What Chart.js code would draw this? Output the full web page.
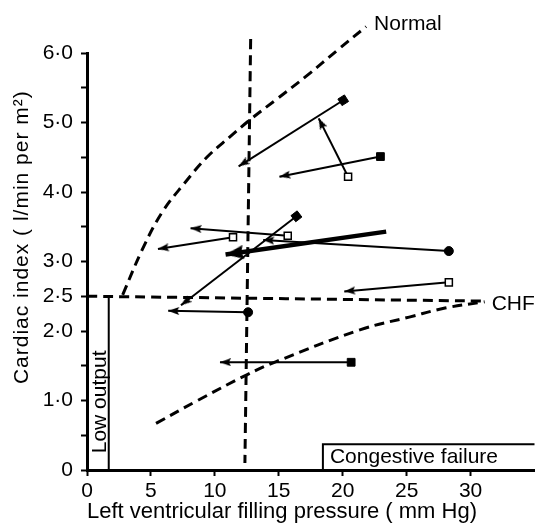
<!DOCTYPE html>
<html>
<head>
<meta charset="utf-8">
<script src="https://cdn.jsdelivr.net/npm/chart.js@4.4.0/dist/chart.umd.min.js"></script>
<style>
  html, body { margin: 0; padding: 0; background: #fff; }
  #wrap { width: 543px; height: 525px; }
</style>
</head>
<body>
<div id="wrap"><canvas id="chart" width="543" height="525"></canvas></div>
<script>
// LV filling pressure (mm Hg) against cardiac index (l/min per m2)
const xTicks = [0, 5, 10, 15, 20, 25, 30];
const yTicks = [0, 0.5, 1, 1.5, 2, 2.5, 3, 3.5, 4, 4.5, 5, 5.5, 6];
const yLabelValues = [0, 1, 2, 2.5, 3, 4, 5, 6];
const yLabelTexts  = ['0', '1·0', '2·0', '2·5', '3·0', '4·0', '5·0', '6·0'];

// dashed reference curves
const normalCurve = [[2.79, 2.52], [4.32, 3.17], [5.85, 3.7], [7.64, 4.13], [9.43, 4.51], [11.22, 4.8], [12.75, 5.04], [14.8, 5.33], [17.1, 5.66], [19.65, 6.05], [21.83, 6.38]];
const chfCurve    = [[5.4, 0.67], [8.65, 1.0], [12.5, 1.37], [14.8, 1.56], [21.4, 2.02], [25.2, 2.2], [28, 2.33], [31.1, 2.42]];
const chfLine     = [[0, 2.5], [31.1, 2.43]];
const pressureLine = [[12.8, 6.2], [12.35, 0.1]];

// outlined zones
const lowOutputBox = [[1.7, 2.5], [1.7, 0]];
const failureBox   = [[18.45, 0], [18.45, 0.37], [35, 0.37]];

// patient responses: before (marker) -> after (arrow head)
const arrowFrom  = [[20.04, 5.32], [20.42, 4.22], [22.95, 4.51], [16.38, 3.65], [11.42, 3.35], [15.7, 3.37], [28.3, 3.15], [28.3, 2.7], [12.6, 2.27], [20.66, 1.55]];
const arrowTo    = [[11.86, 4.37], [18.12, 5.06], [15.05, 4.22], [7.35, 2.37], [5.55, 3.18], [8.1, 3.48], [13.78, 3.31], [20.12, 2.57], [6.35, 2.29], [10.4, 1.55]];
const arrowKinds = ['filledTilt', 'open', 'filled', 'filledTilt', 'open', 'open', 'dot', 'open', 'dot', 'filled'];

// mean response (heavy arrow)
const meanFrom = [23.4, 3.43];
const meanTo   = [10.84, 3.1];

const notes = [
  { text: 'Normal', x: 22.45, y: 6.42, rot: 0, align: 'left' },
  { text: 'CHF', x: 31.65, y: 2.38, rot: 0, align: 'left' },
  { text: 'Congestive failure', x: 19.0, y: 0.18, rot: 0, align: 'left' },
  { text: 'Low output', x: 1.0, y: 0.98, rot: -90, align: 'center' },
];
const yTitle = 'Cardiac index ( l/min per m²)';
const xTitle = 'Left ventricular filling pressure ( mm Hg)';

const FONT = "'Liberation Sans', Arial, sans-serif";
const pts = arr => arr.map(p => ({ x: p[0], y: p[1] }));

function headImage(len, half) {
  const c = document.createElement('canvas');
  c.width = len * 2; c.height = half * 2;
  const g = c.getContext('2d');
  g.fillStyle = '#000';
  g.beginPath();
  g.moveTo(len, half);
  g.lineTo(0, 0);
  g.lineTo(2, half);
  g.lineTo(0, half * 2);
  g.closePath();
  g.fill();
  return c;
}
const thinHead = headImage(11, 4);
const thickHead = headImage(18, 7);

function angleOf(c) {
  const d = c.dataset.data;
  const sx = c.chart.scales.x, sy = c.chart.scales.y;
  const dx = sx.getPixelForValue(d[1].x) - sx.getPixelForValue(d[0].x);
  const dy = sy.getPixelForValue(d[1].y) - sy.getPixelForValue(d[0].y);
  return Math.atan2(dy, dx) * 180 / Math.PI;
}

function dashed(arr) {
  return {
    data: pts(arr), borderColor: '#000', borderWidth: 3, borderDash: [10, 6],
    pointRadius: 0, tension: 0.4, clip: false, fill: false,
  };
}
function solid(arr) {
  return { data: pts(arr), borderColor: '#000', borderWidth: 2, pointRadius: 0, fill: false, clip: false };
}

function arrow(from, to, kind) {
  const open = kind === 'open';
  const style = kind === 'dot' ? 'circle' : 'rect';
  return {
    data: pts([from, to]),
    borderColor: '#000', borderWidth: 2, fill: false,
    pointStyle: [style, thinHead],
    pointRadius: [kind === 'dot' ? 4.5 : (open ? 5 : 5.5), 2],
    pointBackgroundColor: [open ? '#fff' : '#000', '#000'],
    pointBorderColor: '#000',
    pointBorderWidth: [open ? 1.5 : 1, 0],
    rotation: c => (c.dataIndex === 1 || kind === 'filledTilt') ? angleOf(c) : 0,
  };
}

const datasets = [
  dashed(normalCurve),
  dashed(chfCurve),
  dashed(chfLine),
  dashed(pressureLine),
  solid(lowOutputBox),
  solid(failureBox),
];
arrowFrom.forEach((p, i) => datasets.push(arrow(p, arrowTo[i], arrowKinds[i])));
datasets.push({
  data: pts([meanFrom, meanTo]),
  borderColor: '#000', borderWidth: 4.5, fill: false,
  pointStyle: [false, thickHead], pointRadius: [0, 2],
  rotation: c => angleOf(c),
});

const notesPlugin = {
  id: 'notes',
  afterDatasetsDraw(chart) {
    const { ctx, scales: { x, y } } = chart;
    ctx.save();
    ctx.fillStyle = '#000';
    ctx.font = `21px ${FONT}`;
    ctx.textBaseline = 'middle';
    notes.forEach(n => {
      ctx.save();
      ctx.translate(x.getPixelForValue(n.x), y.getPixelForValue(n.y));
      ctx.rotate(n.rot * Math.PI / 180);
      ctx.textAlign = n.align;
      ctx.fillText(n.text, 0, 0);
      ctx.restore();
    });
    // y axis title, a bit loosely spaced like the print
    ctx.translate(22, y.getPixelForValue(3.35));
    ctx.rotate(-Math.PI / 2);
    ctx.textAlign = 'center';
    ctx.letterSpacing = '1px';
    ctx.fillText(yTitle, 0, 0);
    ctx.restore();
  }
};

new Chart(document.getElementById('chart'), {
  type: 'line',
  data: { datasets },
  plugins: [notesPlugin],
  options: {
    responsive: false,
    animation: false,
    events: [],
    layout: { padding: { top: 53, right: 0, bottom: 0, left: 0 } },
    plugins: { legend: { display: false }, tooltip: { enabled: false } },
    scales: {
      x: {
        type: 'linear', min: 0, max: 35,
        afterBuildTicks: s => { s.ticks = xTicks.map(v => ({ value: v })); },
        afterFit: s => { s.height = 55; },
        border: { display: true, color: '#000', width: 3 },
        grid: { drawOnChartArea: false, drawTicks: true, tickLength: 6, tickWidth: 2, tickColor: '#000' },
        ticks: { color: '#000', font: { family: FONT, size: 21 }, padding: 3, maxRotation: 0 },
        title: { display: true, text: xTitle, align: 'start', color: '#000', font: { family: FONT, size: 22 }, padding: 0 },
      },
      y: {
        type: 'linear', min: 0, max: 6,
        afterBuildTicks: s => { s.ticks = yTicks.map(v => ({ value: v })); },
        afterFit: s => { s.width = 87; },
        border: { display: true, color: '#000', width: 3 },
        grid: { drawOnChartArea: false, drawTicks: true, tickLength: 6, tickWidth: 2, tickColor: '#000' },
        ticks: {
          color: '#000', font: { family: FONT, size: 21 }, padding: 8,
          callback: v => { const i = yLabelValues.indexOf(v); return i >= 0 ? yLabelTexts[i] : ''; },
        },
      },
    },
  },
});
</script>
</body>
</html>
